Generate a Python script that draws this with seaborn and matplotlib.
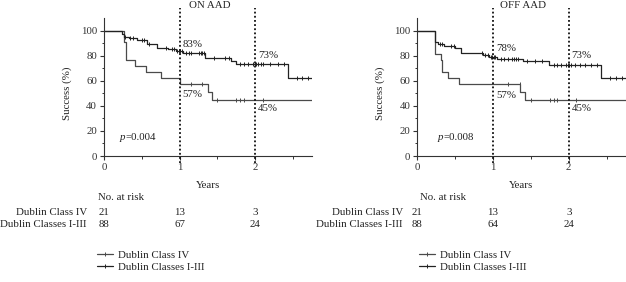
import numpy as np
import pandas as pd
import matplotlib
matplotlib.use("Agg")
import matplotlib.pyplot as plt
from matplotlib.lines import Line2D
import seaborn as sns

# ---------------- data ----------------
panels = ["ON AAD", "OFF AAD"]
groups = ["Dublin Class IV", "Dublin Classes I-III"]

on_iv_t = [0, 0.26, 0.29, 0.41, 0.55, 0.75, 1.0, 1.37, 1.43, 2.75]
on_iv_s = [100, 90.5, 76.2, 71.4, 66.7, 61.9, 57.1, 51.4, 45.0, 45.0]
on_iv_cens = [1.15, 1.3, 1.5, 1.75, 1.8, 1.85, 2.1]

on_13_t = [0, 0.24, 0.27, 0.33, 0.43, 0.57, 0.70, 0.85, 0.95, 1.05, 1.33, 1.68, 1.75, 2.43, 2.75]
on_13_s = [100, 97, 95, 94, 92.6, 89, 86, 85, 84, 82, 78, 76, 73, 62.5, 62.5]
on_13_cens = [0.28, 0.35, 0.38, 0.50, 0.53, 0.60, 0.82, 0.90, 0.93, 0.97, 0.99, 1.01,
              1.03, 1.08, 1.12, 1.15, 1.25, 1.28, 1.30, 1.32, 1.45, 1.60, 1.65, 1.80,
              1.85, 1.90, 1.97, 1.99, 2.01, 2.03, 2.08, 2.10, 2.20, 2.30, 2.38, 2.55,
              2.62, 2.70]

off_iv_t = [0, 0.24, 0.31, 0.33, 0.40, 0.55, 1.36, 1.42, 2.75]
off_iv_s = [100, 81, 76.2, 66.7, 61.9, 57.1, 51.4, 45.0, 45.0]
off_iv_cens = [1.2, 1.35, 1.5, 1.75, 1.8, 1.85, 2.1]

off_13_t = [0, 0.24, 0.28, 0.35, 0.50, 0.58, 0.87, 0.95, 1.05, 1.40, 1.74, 2.42, 2.75]
off_13_s = [100, 91, 89, 88, 86, 82, 80.5, 79, 77, 75.5, 72.5, 62, 62]
off_13_cens = [0.30, 0.33, 0.45, 0.48, 0.85, 0.90, 0.93, 0.97, 0.99, 1.01, 1.03,
               1.10, 1.15, 1.20, 1.25, 1.28, 1.30, 1.33, 1.45, 1.55, 1.65, 1.80,
               1.85, 1.90, 1.97, 1.99, 2.01, 2.03, 2.08, 2.15, 2.22, 2.30, 2.38,
               2.55, 2.62, 2.70]

pct_labels_on = ["83%", "57%", "73%", "45%"]
pct_y_on = [89, 49, 80, 37.5]
pct_labels_off = ["78%", "57%", "73%", "45%"]
pct_y_off = [86, 48, 80, 37.5]
p_values = ["0.004", "0.008"]

risk_times = [0, 1, 2]
risk_on_iv = [21, 13, 3]
risk_on_13 = [88, 67, 24]
risk_off_iv = [21, 13, 3]
risk_off_13 = [88, 64, 24]

# ---------------- style ----------------
sns.set_theme(style="ticks")
plt.rcParams["font.family"] = ["Liberation Serif", "DejaVu Serif"]
FS = 7.8
TXT = "#222222"
plt.rcParams.update({
    "font.size": FS, "axes.labelsize": FS, "xtick.labelsize": FS,
    "ytick.labelsize": FS, "text.color": TXT, "axes.labelcolor": TXT,
    "xtick.color": "#333333", "ytick.color": "#333333",
    "axes.edgecolor": "#333333", "axes.linewidth": 0.8,
    "xtick.major.size": 3, "ytick.major.size": 3,
    "xtick.minor.size": 1.8, "ytick.minor.size": 1.8,
    "xtick.major.width": 0.8, "ytick.major.width": 0.8,
    "xtick.minor.width": 0.7, "ytick.minor.width": 0.7,
})

W, H = 626, 282
fig = plt.figure(figsize=(W / 100, H / 100), dpi=100)

def fx(px):
    return px / W

def fy(py):
    return 1 - py / H

colors = {"Dublin Class IV": "#4a4a4a", "Dublin Classes I-III": "#222222"}

panel_data = [
    dict(iv=(on_iv_t, on_iv_s, on_iv_cens), i3=(on_13_t, on_13_s, on_13_cens),
         pl=pct_labels_on, py=pct_y_on, p=p_values[0], px=0.21,
         risk_iv=risk_on_iv, risk_13=risk_on_13,
         x0=104.0, x1=312.0, lab_x=87, risk_x=98),
    dict(iv=(off_iv_t, off_iv_s, off_iv_cens), i3=(off_13_t, off_13_s, off_13_cens),
         pl=pct_labels_off, py=pct_y_off, p=p_values[1], px=0.27,
         risk_iv=risk_off_iv, risk_13=risk_off_13,
         x0=417.3, x1=625.5, lab_x=403, risk_x=420),
]

top_px, bot_px = 18.0, 156.0

for title, d in zip(panels, panel_data):
    ax = fig.add_axes([fx(d["x0"]), fy(bot_px), fx(d["x1"] - d["x0"]), (bot_px - top_px) / H])
    rows = []
    for g, (t, s, _) in zip(groups, [d["iv"], d["i3"]]):
        for ti, si in zip(t, s):
            rows.append({"Years": ti, "Success": si, "group": g})
    df = pd.DataFrame(rows)
    sns.lineplot(data=df, x="Years", y="Success", hue="group", palette=colors,
                 estimator=None, drawstyle="steps-post", linewidth=0.9,
                 legend=False, ax=ax)
    # censor marks
    for g, (t, s, c) in zip(groups, [d["iv"], d["i3"]]):
        t = np.asarray(t); s = np.asarray(s); c = np.asarray(c)
        idx = np.searchsorted(t, c, side="right") - 1
        ax.plot(c, s[idx], linestyle="none", marker="|", markersize=3.5,
                markeredgewidth=0.7, color=colors[g])
    # dotted lines at 1 and 2 years
    for xv in [1, 2]:
        ax.axvline(xv, ymin=-0.05, ymax=1.07, color="#111111", linewidth=1.3,
                   linestyle=(0, (1, 1.3)), clip_on=False)
    # percentage annotations
    for lab, yv, xv in zip(d["pl"], d["py"], [1, 1, 2, 2]):
        ax.text(xv + 0.04, yv, lab, ha="left", va="center", fontsize=FS, color=TXT)
    ax.text(d["px"], 14.5, "p", style="italic", ha="left", va="center", fontsize=FS)
    ax.text(d["px"] + 0.075, 14.5, "=" + d["p"], ha="left", va="center", fontsize=FS)

    ax.set_xlim(0, 2.75)
    ax.set_ylim(0, 110)
    ax.set_xticks([0, 1, 2])
    ax.set_xticks([0.5, 1.5, 2.5], minor=True)
    ax.set_yticks([0, 20, 40, 60, 80, 100])
    ax.set_yticks([10, 30, 50, 70, 90], minor=True)
    ax.tick_params(axis="both", which="both", direction="out", pad=2)
    ax.set_xlabel("")
    ax.set_ylabel("Success (%)")
    ax.yaxis.set_label_coords(-0.155, 50 / 110)
    sns.despine(ax=ax)
    ax.grid(False)

    xc = (d["x0"] + d["x1"]) / 2
    fig.text(fx(xc + 2), fy(5.5), title, ha="center", va="center", fontsize=FS)
    fig.text(fx(xc), fy(185), "Years", ha="center", va="center", fontsize=FS)

    # risk table
    fig.text(fx(d["risk_x"]), fy(197.5), "No. at risk", ha="left", va="center", fontsize=FS)
    trans = matplotlib.transforms.blended_transform_factory(ax.transData, fig.transFigure)
    for g, vals, ypx in zip(groups, [d["risk_iv"], d["risk_13"]], [212.5, 224.5]):
        fig.text(fx(d["lab_x"]), fy(ypx), g, ha="right", va="center", fontsize=FS)
        for tv, v in zip(risk_times, vals):
            ax.text(tv, fy(ypx), str(v), transform=trans, ha="center", va="center",
                    fontsize=FS, clip_on=False)

    handles = [Line2D([], [], color=colors[g], linewidth=0.9, marker="|",
                      markersize=3.5, markeredgewidth=0.7) for g in groups]
    leg = ax.legend(handles, groups, loc="upper left",
                    bbox_to_anchor=(fx(d["risk_x"] - 1), fy(250)),
                    bbox_transform=fig.transFigure, frameon=False, fontsize=FS,
                    handlelength=1.5, handletextpad=0.4, borderpad=0,
                    borderaxespad=0, labelspacing=0.25)
    for txt in leg.get_texts():
        txt.set_color(TXT)

fig.savefig("out.png", dpi=100)
